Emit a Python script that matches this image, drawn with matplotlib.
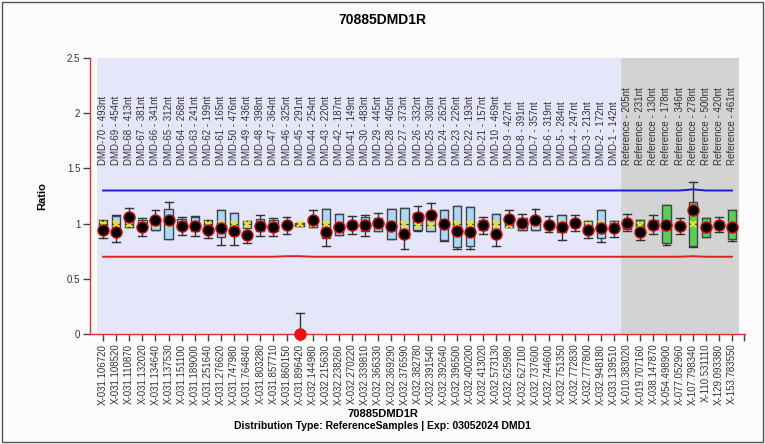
import matplotlib
matplotlib.use("Agg")
import matplotlib.pyplot as plt
from matplotlib.patches import Rectangle

plt.rcParams['font.family'] = ['Liberation Sans', 'DejaVu Sans']

top_labels = ["DMD-70 - 493nt", "DMD-69 - 454nt", "DMD-68 - 413nt", "DMD-67 - 381nt", "DMD-66 - 341nt",
              "DMD-65 - 312nt", "DMD-64 - 268nt", "DMD-63 - 241nt", "DMD-62 - 199nt", "DMD-61 - 165nt",
              "DMD-50 - 476nt", "DMD-49 - 436nt", "DMD-48 - 398nt", "DMD-47 - 364nt", "DMD-46 - 325nt",
              "DMD-45 - 291nt", "DMD-44 - 254nt", "DMD-43 - 220nt", "DMD-42 - 187nt", "DMD-41 - 149nt",
              "DMD-30 - 483nt", "DMD-29 - 445nt", "DMD-28 - 405nt", "DMD-27 - 373nt", "DMD-26 - 332nt",
              "DMD-25 - 303nt", "DMD-24 - 262nt", "DMD-23 - 226nt", "DMD-22 - 193nt", "DMD-21 - 157nt",
              "DMD-10 - 469nt", "DMD-9 - 427nt", "DMD-8 - 391nt", "DMD-7 - 357nt", "DMD-6 - 319nt",
              "DMD-5 - 284nt", "DMD-4 - 247nt", "DMD-3 - 213nt", "DMD-2 - 172nt", "DMD-1 - 142nt",
              "Reference - 205nt", "Reference - 231nt", "Reference - 130nt", "Reference - 178nt",
              "Reference - 346nt", "Reference - 278nt", "Reference - 500nt", "Reference - 420nt",
              "Reference - 461nt"]

bottom_labels = ["X-031.106720", "X-031.108520", "X-031.110870", "X-031.132020", "X-031.134640",
                 "X-031.137530", "X-031.151100", "X-031.189000", "X-031.251640", "X-031.276620",
                 "X-031.747980", "X-031.764840", "X-031.803280", "X-031.857710", "X-031.860150",
                 "X-031.896420", "X-032.144980", "X-032.215630", "X-032.238260", "X-032.270220",
                 "X-032.339810", "X-032.366330", "X-032.369290", "X-032.376590", "X-032.382780",
                 "X-032.391540", "X-032.392640", "X-032.396500", "X-032.400200", "X-032.413020",
                 "X-032.573130", "X-032.625980", "X-032.627100", "X-032.737600", "X-032.744600",
                 "X-032.751350", "X-032.772830", "X-032.777800", "X-032.948180", "X-033.139510",
                 "X-010.383020", "X-019.707160", "X-038.147870", "X-054.498900", "X-077.052960",
                 "X-107.798340", "X-110.531110", "X-129.093380", "X-153.783550"]

n_samples_dmd = 40

box_q1 = [0.97, 0.96, 0.97, 0.96, 0.94, 0.86, 0.95, 0.93, 0.97, 0.88,
          0.90, 0.96, 0.93, 0.93, 0.97, 0.98, 0.97, 0.87, 0.90, 0.96,
          0.93, 0.93, 0.86, 0.87, 0.94, 0.93, 0.85, 0.79, 0.80, 0.94,
          0.87, 0.97, 0.94, 0.94, 0.97, 0.92, 0.97, 0.96, 0.87, 0.97,
          0.95, 0.96, 0.95, 0.82, 0.96, 0.80, 0.88, 0.97, 0.86]
box_q3 = [1.02, 1.07, 1.02, 1.03, 1.02, 1.13, 1.04, 1.06, 1.02, 1.12,
          1.10, 1.02, 1.04, 1.03, 1.01, 1.01, 1.02, 1.13, 1.09, 1.02,
          1.06, 1.05, 1.13, 1.14, 1.10, 1.05, 1.12, 1.16, 1.15, 1.03,
          1.09, 1.03, 1.05, 1.06, 1.01, 1.08, 1.02, 1.02, 1.12, 1.02,
          1.02, 1.03, 1.03, 1.17, 1.01, 1.20, 1.05, 1.01, 1.12]
box_mid = [1.00, 1.00, 1.00, 0.99, 1.00, 1.00, 0.99, 0.99, 1.00, 1.00,
           1.00, 1.00, 0.99, 0.99, 0.99, 1.00, 1.00, 1.00, 0.99, 0.99,
           0.99, 1.00, 1.00, 1.00, 0.99, 0.99, 1.00, 1.00, 1.00, 0.99,
           1.00, 0.99, 1.00, 1.00, 0.99, 1.00, 1.00, 0.99, 1.00, 0.99,
           1.00, 0.99, 0.99, 0.99, 0.99, 1.00, 0.99, 0.99, 0.99]
whisk_lo = [0.87, 0.83, 0.97, 0.89, 0.94, 0.86, 0.90, 0.89, 0.87, 0.81,
            0.81, 0.82, 0.89, 0.89, 0.91, 0.98, 0.97, 0.80, 0.90, 0.91,
            0.89, 0.93, 0.86, 0.77, 0.93, 0.93, 0.84, 0.77, 0.77, 0.91,
            0.80, 0.97, 0.94, 0.94, 0.92, 0.85, 0.93, 0.87, 0.83, 0.88,
            0.93, 0.85, 0.91, 0.81, 0.91, 0.79, 0.88, 0.92, 0.84]
whisk_hi = [1.03, 1.08, 1.14, 1.05, 1.12, 1.20, 1.06, 1.07, 1.03, 1.12,
            1.10, 1.02, 1.08, 1.05, 1.06, 1.01, 1.12, 1.13, 1.09, 1.07,
            1.08, 1.10, 1.13, 1.14, 1.16, 1.19, 1.12, 1.16, 1.15, 1.06,
            1.09, 1.12, 1.09, 1.13, 1.07, 1.08, 1.08, 1.02, 1.12, 1.02,
            1.09, 1.03, 1.08, 1.17, 1.05, 1.38, 1.05, 1.06, 1.12]
sample_val = [0.94, 0.92, 1.06, 0.97, 1.03, 1.03, 0.98, 0.98, 0.94, 0.96,
              0.93, 0.90, 0.98, 0.97, 0.99, 0.00, 1.03, 0.92, 0.97, 0.99,
              0.99, 1.01, 0.98, 0.91, 1.06, 1.08, 1.00, 0.93, 0.92, 0.99,
              0.91, 1.04, 1.01, 1.03, 0.99, 0.97, 1.01, 0.94, 0.96, 0.96,
              1.01, 0.92, 0.99, 0.99, 0.98, 1.12, 0.97, 0.99, 0.97]
sample_err_hi = [None] * 15 + [0.19] + [None] * 33

upper_limit = [1.30] * 40 + [1.30, 1.30, 1.30, 1.30, 1.30, 1.31, 1.30, 1.30, 1.30]
lower_limit = [0.70] * 14 + [0.705, 0.705, 0.70] + [0.70] * 28 + [0.705, 0.70, 0.70, 0.70]

fig = plt.figure(figsize=(7.65, 4.44), dpi=100, facecolor='#fbfbfb')
ax = fig.add_axes([0.1176, 0.2477, 0.8564, 0.6216])
ax.set_facecolor('#fbfbfb')

n = len(top_labels)
xs = list(range(n))
ax.set_xlim(-1, 49)
ax.set_ylim(0, 2.5)

ax.add_patch(Rectangle((-0.5, 0), n_samples_dmd, 2.5, facecolor='#e6e6fa', edgecolor='none', zorder=0))
ax.add_patch(Rectangle((n_samples_dmd - 0.5, 0), n - n_samples_dmd, 2.5, facecolor='#d3d3d3', edgecolor='none', zorder=0))

ax.plot(xs, upper_limit, color='#1a1acd', lw=1.4, zorder=2)
ax.plot(xs, lower_limit, color='#e02020', lw=1.4, zorder=2)

w = 0.64
for i in xs:
    fc = '#aad8f5' if i < n_samples_dmd else '#58cf58'
    ax.plot([i, i], [whisk_lo[i], box_q1[i]], color='#333333', lw=1, zorder=3)
    ax.plot([i, i], [box_q3[i], whisk_hi[i]], color='#333333', lw=1, zorder=3)
    ax.plot([i - 0.3, i + 0.3], [whisk_lo[i]] * 2, color='#333333', lw=1, zorder=3)
    ax.plot([i - 0.3, i + 0.3], [whisk_hi[i]] * 2, color='#333333', lw=1, zorder=3)
    ax.add_patch(Rectangle((i - w / 2, box_q1[i]), w, box_q3[i] - box_q1[i],
                           facecolor=fc, edgecolor='#444444', lw=1, zorder=4))
    ax.plot([i - w / 2, i + w / 2], [box_mid[i]] * 2, color='#444444', lw=0.8, zorder=5)
    ax.plot([i], [box_mid[i]], marker='x', color='#f0e020', ms=4, mew=1.5, zorder=6)

for i in xs:
    if sample_err_hi[i] is not None:
        ax.plot([i, i], [sample_val[i], sample_err_hi[i]], color='#333333', lw=1, zorder=6)
        ax.plot([i - 0.3, i + 0.3], [sample_err_hi[i]] * 2, color='#333333', lw=1, zorder=6)
        ax.plot([i], [sample_val[i]], marker='o', ms=8, mfc='#ee1111', mec='#ee1111',
                zorder=7, clip_on=False)
    else:
        ax.plot([i], [sample_val[i]], marker='o', ms=8, mfc='black', mec='#d01010', mew=1,
                zorder=7)

for i in xs:
    ax.text(i, 1.53, top_labels[i], rotation=90, ha='center', va='bottom',
            fontsize=7, color='#333333', zorder=8)

ax.set_xticks(xs + [48.9])
ax.set_xticklabels(bottom_labels + [''], rotation=90, fontsize=7, color='#333333')
ax.set_yticks([0, 0.5, 1, 1.5, 2, 2.5])
ax.set_yticklabels(['0', '0.5', '1', '1.5', '2', '2.5'], fontsize=7, color='#333333')
ax.tick_params(axis='both', direction='out', length=5, color='#444444', width=1, pad=2)

for s in ['top', 'right']:
    ax.spines[s].set_visible(False)
ax.spines['left'].set_color('#e03030')
ax.spines['bottom'].set_color('#e03030')
ax.spines['left'].set_linewidth(1)
ax.spines['bottom'].set_linewidth(1)

ax.set_ylabel('Ratio', fontsize=8, fontweight='bold', labelpad=14)
fig.text(0.5, 0.955, '70885DMD1R', ha='center', va='center', fontsize=10, fontweight='bold')
fig.text(0.5, 0.068, '70885DMD1R', ha='center', va='center', fontsize=8, fontweight='bold')
fig.text(0.5, 0.04, 'Distribution Type: ReferenceSamples | Exp: 03052024 DMD1', ha='center',
         va='center', fontsize=7.5, fontweight='bold')

fig.add_artist(Rectangle((0.003, 0.004), 0.994, 0.992, transform=fig.transFigure,
                         facecolor='none', edgecolor='#555555', lw=1))

fig.savefig('out.png', dpi=100, facecolor=fig.get_facecolor())
